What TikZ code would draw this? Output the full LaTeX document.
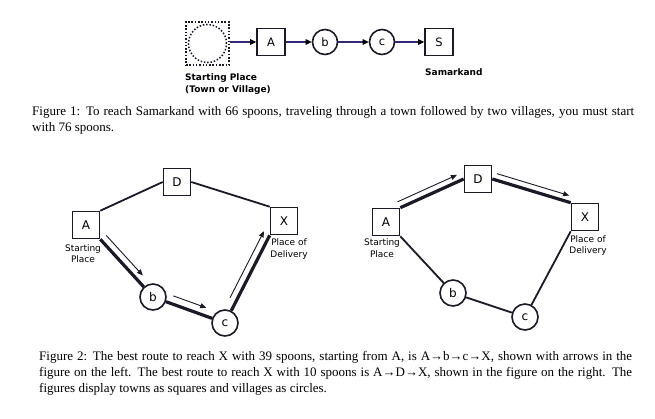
\documentclass[tikz,border=0pt]{standalone}
\usepackage{fontspec}
\setmainfont{Liberation Serif}
\newfontfamily\dv{DejaVu Sans}
\usetikzlibrary{arrows.meta,calc}
\definecolor{ink}{RGB}{25,25,40}
\definecolor{navy}{RGB}{50,40,120}
\begin{document}
\begin{tikzpicture}[x=1pt,y=-1pt,
  town/.style={draw=ink, line width=1.6pt, minimum width=27pt, minimum height=27pt, inner sep=0pt, font=\dv\fontsize{12}{12}\selectfont},
  village/.style={draw=ink, circle, line width=1.6pt, minimum size=26pt, inner sep=0pt, font=\dv\fontsize{12}{12}\selectfont},
  plainedge/.style={draw=ink, line width=1.8pt},
  routeedge/.style={draw=ink, line width=3.2pt},
  hint/.style={draw=ink, line width=0.9pt, -{Triangle[length=6pt,width=5pt]}},
  flow/.style={draw=navy, line width=1.3pt, -{Triangle[length=6pt,width=5.5pt,color=black]}},
  lab/.style={font=\dv\fontsize{9}{11.5}\selectfont, align=center, inner sep=0pt},
  blab/.style={font=\dv\bfseries\fontsize{9}{11.5}\selectfont, align=left, inner sep=0pt},
  captext/.style={anchor=north west, align=justify, inner sep=0pt, font=\fontsize{13}{16}\selectfont}
]
\useasboundingbox[fill=white] (0,0) rectangle (655,418);

% ---------- Figure 1 ----------
\node[draw=ink, line width=1.5pt, dash pattern=on 1.5pt off 1.8pt, minimum size=43pt, inner sep=0pt] (start) at (207.5,43.5) {};
\node[draw=ink, line width=1.5pt, dash pattern=on 1.5pt off 1.8pt, circle, minimum size=38pt, inner sep=0pt] (startc) at (start) {};
\node[town, minimum width=28pt, font=\dv\fontsize{11.5}{11.5}\selectfont] (fA) at (271,42) {A};
\node[village, minimum size=25pt, font=\dv\fontsize{11.5}{11.5}\selectfont] (fb) at (325,42) {b};
\node[village, minimum size=25pt, font=\dv\fontsize{11.5}{11.5}\selectfont] (fc) at (382,42) {c};
\node[town, minimum width=28pt, font=\dv\fontsize{11.5}{11.5}\selectfont] (fS) at (439,42) {S};
\draw[flow] (start.east |- fA.west) -- (fA.west);
\draw[flow] (fA) -- (fb);
\draw[flow] (fb) -- (fc);
\draw[flow] (fc) -- (fS);
\node[blab, anchor=north west] (startlab) at (185,73.5) {Starting Place\\(Town or Village)};
\node[blab, anchor=north west] (samlab) at (425,68) {Samarkand};

\node[captext, text width=602pt] (cap1) at (32,106) {Figure 1: To reach Samarkand with 66 spoons, traveling through a town followed by two villages, you must start\linebreak with 76 spoons.};

% ---------- Figure 2, left ----------
\node[town] (lA) at (86,225) {A};
\node[town] (lD) at (177,182) {D};
\node[town] (lX) at (284,221) {X};
\node[village] (lb) at (153,297) {b};
\node[village] (lc) at (225,323) {c};
\draw[plainedge] (lA.north east) -- (lD.west);
\draw[plainedge] (lD.east) -- (lX.north west);
\draw[routeedge] (lA.south east) -- (lb);
\draw[routeedge] (lb) -- (lc);
\draw[routeedge] (lc) -- (lX.south west);
\draw[hint, transform canvas={xshift=5.2pt,yshift=4.7pt}, shorten <=1pt, shorten >=9pt] (lA.south east) -- (lb);
\draw[hint, transform canvas={xshift=2.7pt,yshift=7.5pt}, shorten <=5pt, shorten >=9pt] (lb) -- (lc);
\draw[hint, transform canvas={xshift=-6.2pt,yshift=3.2pt}, shorten <=11pt, shorten >=-1pt] (lc) -- (lX.south west);
\node[lab] (lAlab) at (83,253.5) {Starting\\Place};
\node[lab] (lXlab) at (289,249) {Place of\\Delivery};

% ---------- Figure 2, right ----------
\node[town] (rA) at (386,222) {A};
\node[town] (rD) at (478,179) {D};
\node[town] (rX) at (585,217) {X};
\node[village] (rb) at (453,293) {b};
\node[village] (rc) at (525,317) {c};
\draw[routeedge] (rA.north east) -- (rD.west);
\draw[routeedge] (rD.east) -- (rX.north west);
\draw[plainedge] (rA.south east) -- (rb);
\draw[plainedge] (rb) -- (rc);
\draw[plainedge] (rc) -- (rX.south west);
\draw[hint, transform canvas={xshift=-2.7pt,yshift=5.9pt}, shorten <=0pt, shorten >=4.5pt] (rA.north east) -- (rD.west);
\draw[hint, transform canvas={xshift=1.8pt,yshift=6.2pt}, shorten <=3pt, shorten >=3.5pt] (rD.east) -- (rX.north west);
\node[lab] (rAlab) at (382,248) {Starting\\Place};
\node[lab] (rXlab) at (588,245.5) {Place of\\Delivery};

\node[captext, text width=593pt] (cap2) at (39,351) {Figure 2: The best route to reach X with 39 spoons, starting from A, is A→b→c→X, shown with arrows in the\linebreak figure on the left. The best route to reach X with 10 spoons is A→D→X, shown in the figure on the right. The\linebreak figures display towns as squares and villages as circles.};
\end{tikzpicture}
\end{document}
